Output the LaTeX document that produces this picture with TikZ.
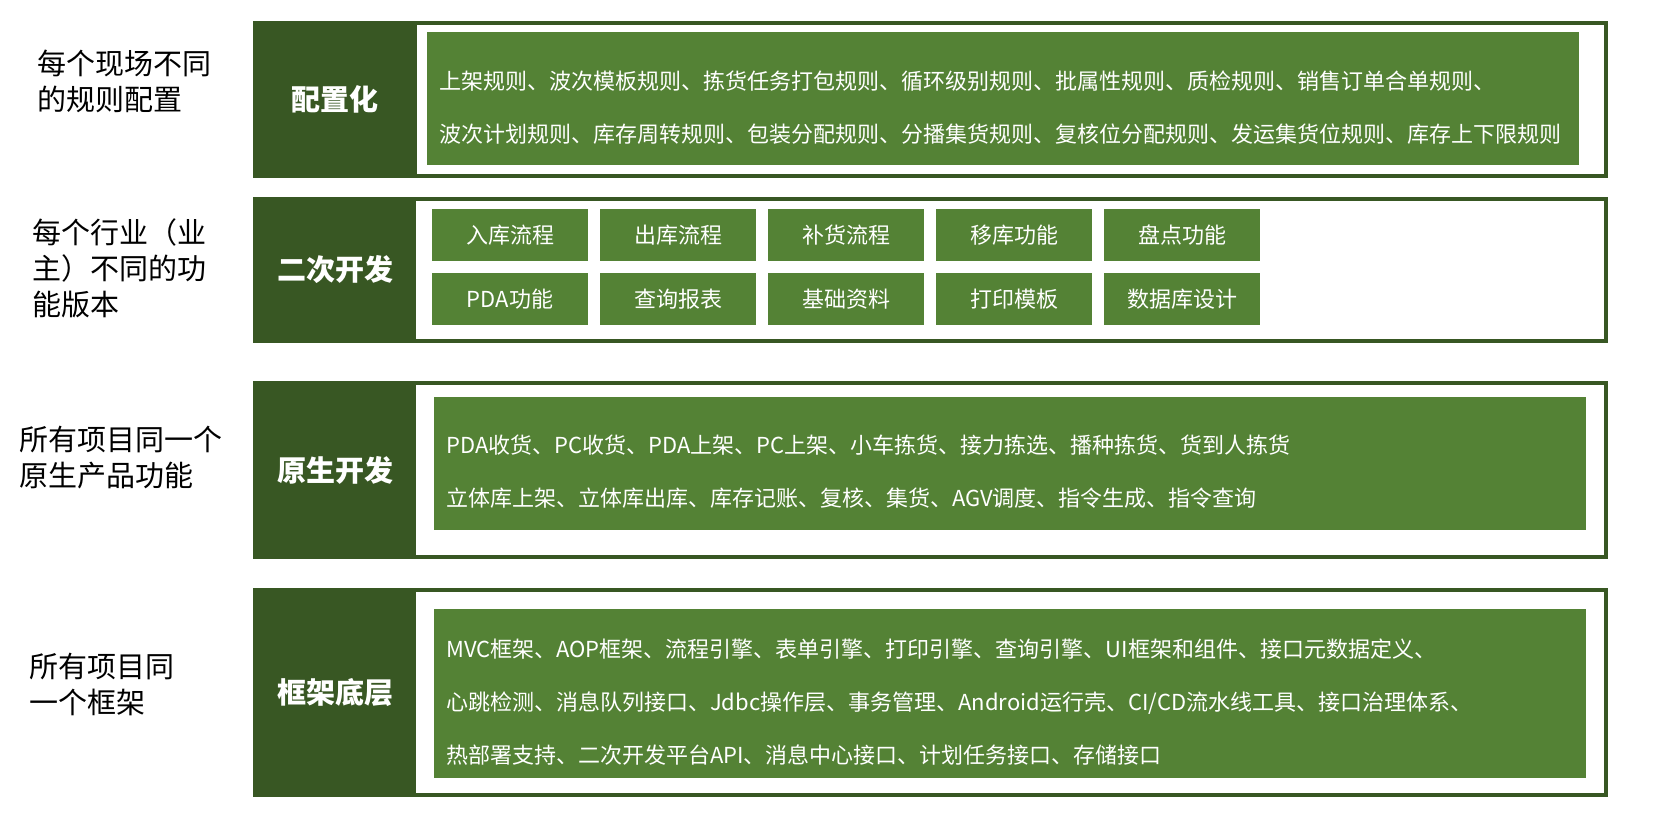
\documentclass[tikz,border=0pt]{standalone}
\usepackage{fontspec}
\setmainfont{Noto Sans CJK SC}
\usetikzlibrary{positioning}

\definecolor{dkgreen}{HTML}{385723}
\definecolor{midgreen}{HTML}{548235}

\begin{document}
\begin{tikzpicture}[
        x=1pt, y=-1pt,
        node distance=12pt,
        layer/.style={fill=dkgreen, anchor=north west, inner sep=0pt, outer sep=0pt},
        hole/.style={fill=white, anchor=north west, inner sep=0pt, outer sep=0pt},
        board/.style={fill=midgreen, anchor=north west, inner sep=0pt, outer sep=0pt},
        tag/.style={text=white, inner sep=0pt, font=\fontsize{29pt}{34pt}\selectfont\bfseries},
        rowtext/.style={text=white, anchor=base west, inner sep=0pt, font=\fontsize{22pt}{26pt}\selectfont},
        item/.style={fill=midgreen, text=white, inner sep=0pt, outer sep=0pt, minimum width=156pt, minimum height=52pt, font=\fontsize{22pt}{26pt}\selectfont},
        note/.style={anchor=west, align=left, inner sep=0pt, font=\fontsize{29pt}{36pt}\selectfont}
    ]
        \useasboundingbox (0,0) rectangle (1672,822);

        % 配置化
        \node[layer, minimum width=1355pt, minimum height=157pt] (l1) at (253,21) {};
        \node[hole, minimum width=1187pt, minimum height=149pt] (h1) at (417,25) {};
        \node[tag] (t1) at (335,99.5) {配置化};
        \node[board, minimum width=1152pt, minimum height=133pt] (g1) at (427,32) {};
        \node[rowtext] (g1a) at (439,89) {上架规则、波次模板规则、拣货任务打包规则、循环级别规则、批属性规则、质检规则、销售订单合单规则、};
        \node[rowtext] (g1b) at (439,142) {波次计划规则、库存周转规则、包装分配规则、分播集货规则、复核位分配规则、发运集货位规则、库存上下限规则};
        \node[note] (n1) at (37,81.5) {每个现场不同\\的规则配置};

        % 二次开发
        \node[layer, minimum width=1355pt, minimum height=146pt] (l2) at (253,197) {};
        \node[hole, minimum width=1188pt, minimum height=138pt] (h2) at (416,201) {};
        \node[tag] (t2) at (335,270) {二次开发};
        \node[item, anchor=north west] (b1) at (432,209) {入库流程};
        \node[item, right=of b1] (b2) {出库流程};
        \node[item, right=of b2] (b3) {补货流程};
        \node[item, right=of b3] (b4) {移库功能};
        \node[item, right=of b4] (b5) {盘点功能};
        \node[item, below=of b1] (c1) {PDA功能};
        \node[item, right=of c1] (c2) {查询报表};
        \node[item, right=of c2] (c3) {基础资料};
        \node[item, right=of c3] (c4) {打印模板};
        \node[item, right=of c4] (c5) {数据库设计};
        \node[note] (n2) at (32,268) {每个行业（业\\主）不同的功\\能版本};

        % 原生开发
        \node[layer, minimum width=1355pt, minimum height=178pt] (l3) at (253,381) {};
        \node[hole, minimum width=1188pt, minimum height=170pt] (h3) at (416,385) {};
        \node[tag] (t3) at (335,470) {原生开发};
        \node[board, minimum width=1152pt, minimum height=133pt] (g3) at (434,397) {};
        \node[rowtext] (g3a) at (446,453) {PDA收货、PC收货、PDA上架、PC上架、小车拣货、接力拣选、播种拣货、货到人拣货};
        \node[rowtext] (g3b) at (446,506) {立体库上架、立体库出库、库存记账、复核、集货、AGV调度、指令生成、指令查询};
        \node[note] (n3) at (19,457.5) {所有项目同一个\\原生产品功能};

        % 框架底层
        \node[layer, minimum width=1355pt, minimum height=209pt] (l4) at (253,588) {};
        \node[hole, minimum width=1188pt, minimum height=201pt] (h4) at (416,592) {};
        \node[tag] (t4) at (335,692.5) {框架底层};
        \node[board, minimum width=1152pt, minimum height=169pt] (g4) at (434,609) {};
        \node[rowtext] (g4a) at (446,657) {MVC框架、AOP框架、流程引擎、表单引擎、打印引擎、查询引擎、UI框架和组件、接口元数据定义、};
        \node[rowtext] (g4b) at (446,710) {心跳检测、消息队列接口、Jdbc操作层、事务管理、Android运行壳、CI/CD流水线工具、接口治理体系、};
        \node[rowtext] (g4c) at (446,763) {热部署支持、二次开发平台API、消息中心接口、计划任务接口、存储接口};
        \node[note] (n4) at (29,684) {所有项目同\\一个框架};
    \end{tikzpicture}
\end{document}
